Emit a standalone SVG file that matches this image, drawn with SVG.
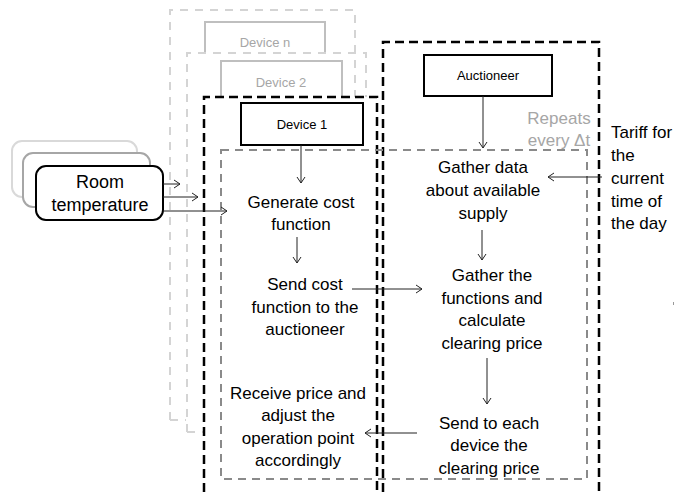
<svg xmlns="http://www.w3.org/2000/svg" width="677" height="492" viewBox="0 0 677 492">
<defs>
<marker id="ah" markerWidth="8" markerHeight="10" refX="7" refY="5" orient="auto" markerUnits="userSpaceOnUse">
<path d="M1,1 L7,5 L1,9" fill="none" stroke="#222" stroke-width="1"/>
</marker>
<style>
text{font-family:"Liberation Sans",Arial,sans-serif;}
.t{font-size:17px;fill:#000;text-anchor:middle;}
.tl{font-size:17px;fill:#000;}
.s{font-size:13px;text-anchor:middle;}
.bd{fill:none;stroke:#000;stroke-width:2.5;stroke-dasharray:9 5;}
.gd{fill:none;stroke:#8a8a8a;stroke-width:2;stroke-dasharray:8 6;}
.ld{fill:none;stroke:#d4d4d4;stroke-width:2;stroke-dasharray:8 7;}
.ar{fill:none;stroke:#222;stroke-width:1;marker-end:url(#ah);}
</style>
</defs>
<rect width="677" height="492" fill="#fff"/>

<g id="device-n">
<path class="ld" d="M170,420 V10 H355 V97 M170,420 H186"/>
<path d="M205,53 V22 H325 V53" fill="none" stroke="#bfbfbf" stroke-width="2"/>
<text class="s" x="265" y="47" fill="#a6a6a6">Device n</text>
</g>

<g id="device-2">
<path class="ld" d="M187,432 V53 H366 V97 M187,432 H203"/>
<path d="M221,97 V61 H342 V97" fill="none" stroke="#bfbfbf" stroke-width="2"/>
<text class="s" x="281" y="87" fill="#a6a6a6">Device 2</text>
</g>

<g id="device-1-frame">
<path class="bd" d="M204,492 V97 H377 V492"/>
</g>

<g id="auctioneer-frame">
<path class="bd" d="M383,492 V42 H599 V492"/>
</g>

<g id="repeat-box">
<rect class="gd" x="221" y="150" width="366" height="329"/>
<text x="559" y="124" font-size="17" fill="#a6a6a6" text-anchor="middle">Repeats</text>
<text x="559" y="146" font-size="17" fill="#a6a6a6" text-anchor="middle">every Δt</text>
</g>

<g id="device-1">
<rect x="241" y="103" width="122" height="42" fill="#fff" stroke="#000" stroke-width="2"/>
<text class="s" x="302" y="129" fill="#000">Device 1</text>
</g>

<g id="auctioneer">
<rect x="424" y="55" width="128" height="41" fill="#fff" stroke="#000" stroke-width="2"/>
<text class="s" x="488" y="80" fill="#000">Auctioneer</text>
</g>

<g id="room-temp-3">
<rect x="12" y="141" width="125" height="56" rx="10" fill="#fff" stroke="#d9d9d9" stroke-width="2"/>
</g>
<g id="room-temp-2">
<rect x="23" y="153" width="127" height="54" rx="10" fill="#fff" stroke="#a6a6a6" stroke-width="2"/>
</g>
<g id="room-temp-1">
<rect x="36" y="166" width="127" height="54" rx="10" fill="#fff" stroke="#000" stroke-width="2"/>
<text x="100" y="188" font-size="18" fill="#000" text-anchor="middle">Room</text>
<text x="100" y="211" font-size="18" fill="#000" text-anchor="middle">temperature</text>
</g>

<g id="generate">
<text class="t" x="301" y="208">Generate cost</text>
<text class="t" x="301" y="230">function</text>
</g>
<g id="send-cost">
<text class="t" x="305" y="290">Send cost</text>
<text class="t" x="305" y="313">function to the</text>
<text class="t" x="305" y="335">auctioneer</text>
</g>
<g id="receive">
<text class="t" x="298" y="399">Receive price and</text>
<text class="t" x="298" y="421">adjust the</text>
<text class="t" x="298" y="444">operation point</text>
<text class="t" x="298" y="466">accordingly</text>
</g>
<g id="gather-data">
<text class="t" x="483" y="173">Gather data</text>
<text class="t" x="483" y="196">about available</text>
<text class="t" x="483" y="219">supply</text>
</g>
<g id="gather-functions">
<text class="t" x="492" y="281">Gather the</text>
<text class="t" x="492" y="304">functions and</text>
<text class="t" x="492" y="326">calculate</text>
<text class="t" x="492" y="349">clearing price</text>
</g>
<g id="send-each">
<text class="t" x="489" y="429">Send to each</text>
<text class="t" x="489" y="451">device the</text>
<text class="t" x="489" y="474">clearing price</text>
</g>
<g id="tariff">
<text class="tl" x="611" y="138">Tariff for</text>
<text class="tl" x="611" y="161">the</text>
<text class="tl" x="611" y="184">current</text>
<text class="tl" x="611" y="207">time of</text>
<text class="tl" x="611" y="229">the day</text>
</g>

<g id="connectors">
<path class="ar" d="M163,184 H180"/>
<path class="ar" d="M163,197 H198"/>
<path class="ar" d="M163,211 H227"/>
<path class="ar" d="M301,145 V183"/>
<path class="ar" d="M297,237 V263"/>
<path class="ar" d="M352,289 H422"/>
<path class="ar" d="M483,96 V148"/>
<path class="ar" d="M602,177 H548"/>
<path class="ar" d="M482,230 V260"/>
<path class="ar" d="M487,358 V404"/>
<path class="ar" d="M417,433 H365"/>
</g>
<line x1="673.5" y1="302" x2="673.5" y2="305" stroke="#999" stroke-width="1"/>
</svg>
